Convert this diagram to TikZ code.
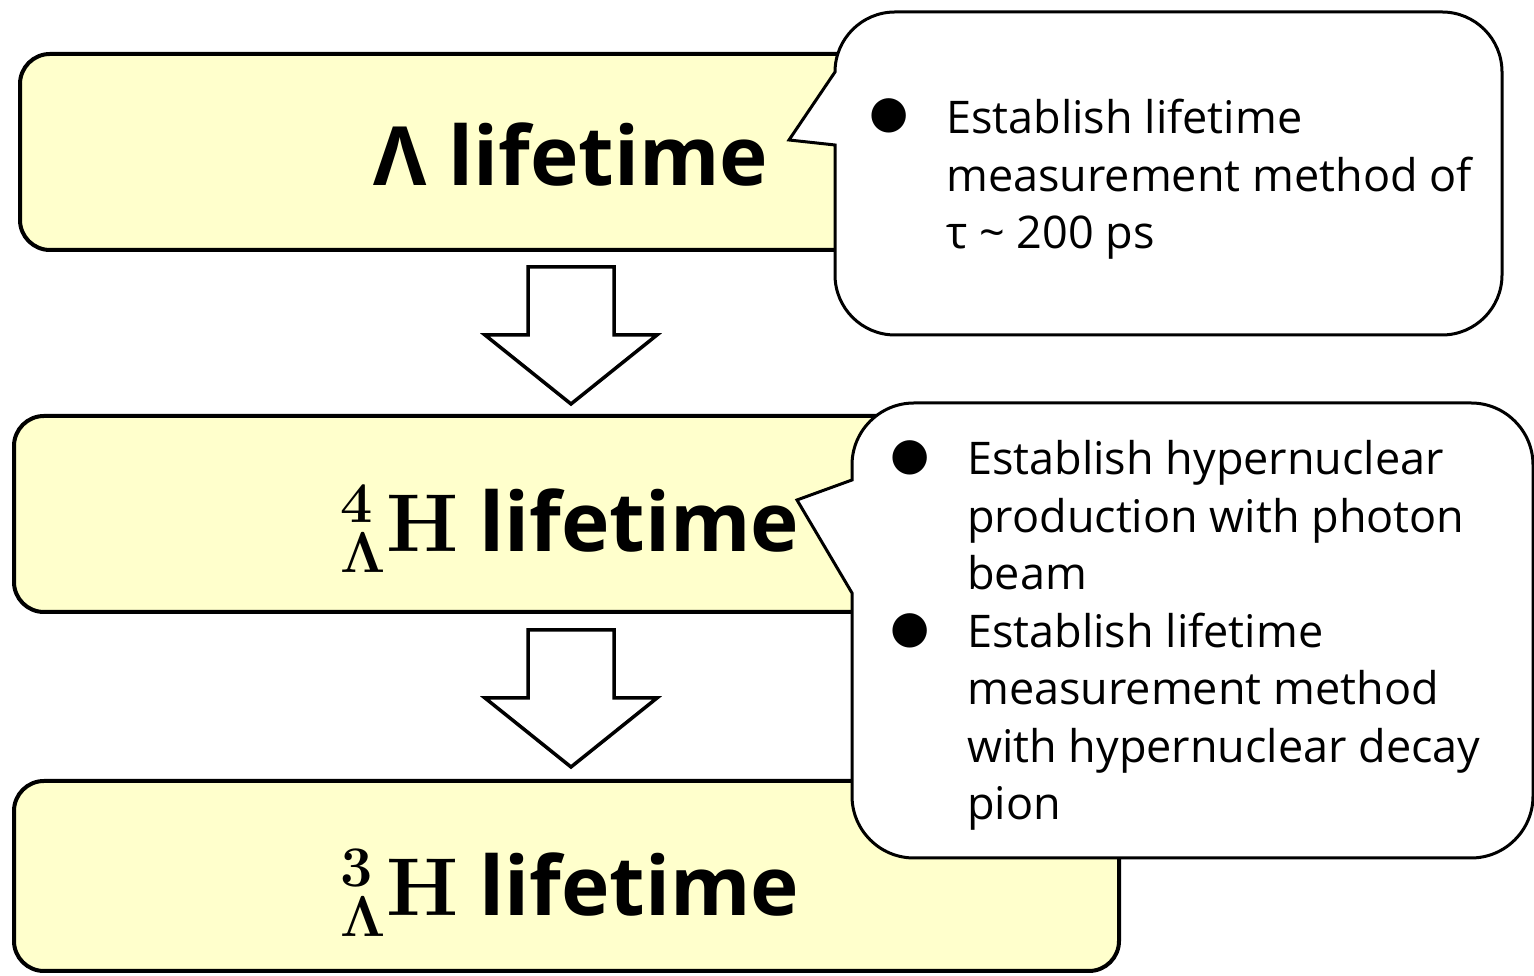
\RequirePackage{fix-cm}
\documentclass[tikz,border=0pt]{standalone}
\usepackage[no-math]{fontspec}
\setmainfont{Open Sans}
\newfontfamily\bulletfont{DejaVu Sans}
\definecolor{boxfill}{HTML}{FFFFCC}
\tikzset{
  stagebox/.style={draw=black, line width=4pt, fill=boxfill, rounded corners=30pt, inner sep=0pt, anchor=south west},
  callbox/.style={draw=black, line width=3pt, fill=white, line join=miter},
  blockarrow/.style={draw=black, line width=3.5pt, fill=white, line join=miter},
  titletext/.style={font=\fontsize{82}{100}\selectfont\bfseries, inner sep=0pt, anchor=base},
  calltext/.style={font=\fontsize{45}{57.5}\selectfont, align=left, inner sep=0pt, anchor=base west},
  bulletmark/.style={font=\fontsize{45}{57.5}\bulletfont, inner sep=0pt}
}
\begin{document}
\begin{tikzpicture}[x=1pt,y=1pt]
\useasboundingbox (0,0) rectangle (1534,976);
% stage boxes
\node[stagebox, minimum width=1092pt, minimum height=196pt] (box1) at (18,724) {};
\node[stagebox, minimum width=1105pt, minimum height=196pt] (box2) at (12,362) {};
\node[stagebox, minimum width=1105pt, minimum height=190pt] (box3) at (12,3) {};
% block arrows
\draw[blockarrow] (528,709) -- (614,709) -- (614,641) -- (657,641) -- (571,572) -- (485,641) -- (528,641) -- cycle;
\draw[blockarrow] (528,346) -- (614,346) -- (614,278) -- (657,278) -- (571,209) -- (485,278) -- (528,278) -- cycle;
% titles
\node[titletext] (t1) at (571,790) {Λ lifetime};
\node[titletext] (t2) at (570,424) {${}^{\mathbf{4}}_{\mathbf{\Lambda}}\mathbf{H}$ lifetime};
\node[titletext] (t3) at (570,60) {${}^{\mathbf{3}}_{\mathbf{\Lambda}}\mathbf{H}$ lifetime};
% callout 1
\draw[callbox] (835,904) -- (789,836) -- (835,831) -- (835,701)
  arc[start angle=180,end angle=270,radius=60] -- (1442,641)
  arc[start angle=270,end angle=360,radius=60] -- (1502,904)
  arc[start angle=0,end angle=90,radius=60] -- (895,964)
  arc[start angle=90,end angle=180,radius=60] -- cycle;
% callout 2
\draw[callbox] (852,496) -- (797,476) -- (852,383) -- (852,180)
  arc[start angle=180,end angle=270,radius=62] -- (1471,118)
  arc[start angle=270,end angle=360,radius=62] -- (1533,511)
  arc[start angle=0,end angle=90,radius=62] -- (914,573)
  arc[start angle=90,end angle=180,radius=62] -- cycle;
% callout texts (anchored at the baseline of the last line)
\node[bulletmark] (b1) at (889,860) {●};
\node[calltext] (c1) at (946,727) {Establish lifetime\\measurement method of\\τ \textasciitilde\ 200 ps};
\node[bulletmark] (b2) at (910,518) {●};
\node[calltext] (c2) at (967,386) {Establish hypernuclear\\production with photon\\beam};
\node[bulletmark] (b3) at (910,345.5) {●};
\node[calltext] (c3) at (967,156) {Establish lifetime\\measurement method\\with hypernuclear decay\\pion};
\end{tikzpicture}
\end{document}
